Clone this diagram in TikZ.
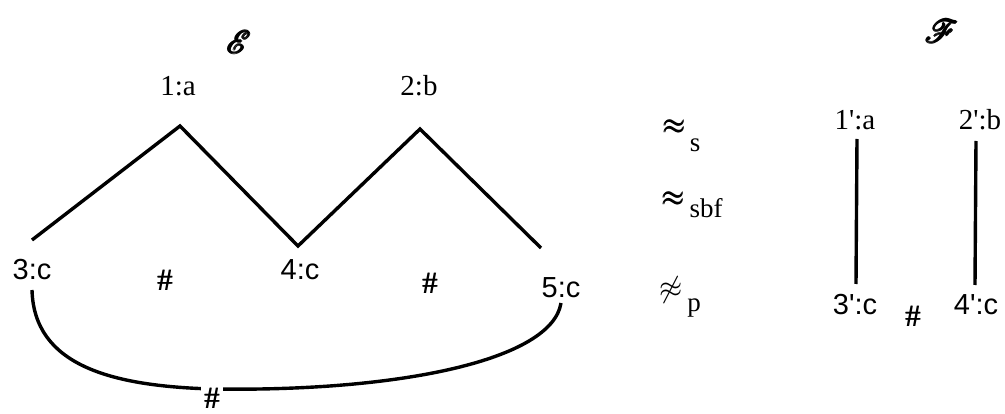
\documentclass[tikz,border=0pt]{standalone}
\usepackage{fontspec}
\setmainfont{Liberation Serif}
\newfontfamily\lsans{Liberation Sans}
\usepackage{amsmath}
\usepackage{graphicx}
\usepackage{mathrsfs}
\newcommand{\fatscr}[1]{\scalebox{3.2}{\rlap{$\mathscr{#1}$}\rlap{\kern0.3pt$\mathscr{#1}$}\rlap{\kern0.6pt$\mathscr{#1}$}\rlap{\raisebox{0.3pt}{\kern0.3pt$\mathscr{#1}$}}\raisebox{-0.3pt}{\kern0.3pt$\mathscr{#1}$}}}
\newcommand{\fatapprox}{\rlap{$\approx$}\rlap{\kern0.5pt$\approx$}\raisebox{0.4pt}{\kern0.25pt$\approx$}}
\newcommand{\fathash}{\rlap{\#}\kern0.6pt\#}
\tikzset{
  lbl/.style={font=\fontsize{29}{32}\selectfont, inner sep=0pt, anchor=base},
  slbl/.style={font=\lsans\fontsize{29}{32}\selectfont, inner sep=0pt, anchor=base},
  hash/.style={font=\fontsize{31}{32}\selectfont, inner sep=0pt},
  edge/.style={line width=3.4pt, line join=miter},
  relsym/.style={font=\fontsize{26}{28}\selectfont, inner sep=0pt},
  relsub/.style={font=\fontsize{27}{30}\selectfont, inner sep=0pt, anchor=base},
  title/.style={font=\normalsize, inner sep=0pt},
}
\begin{document}
\begin{tikzpicture}[x=1pt,y=-1pt]
\useasboundingbox (0,0) rectangle (1005,414);
% titles
\node[title] (E) at (238,42) {\fatscr{E}};
\node[title] (F) at (941,31) {\fatscr{F}};
% left graph vertices
\coordinate (v1) at (180,126);
\coordinate (v2) at (420,129);
\coordinate (v3) at (32,240);
\coordinate (v4) at (298,246);
\coordinate (v5) at (541,248);
\node[lbl] (l1) at (178,96) {1:a};
\node[lbl] (l2) at (419,96) {2:b};
\node[slbl] (l3) at (32,280) {3:c};
\node[slbl] (l4) at (300,280) {4:c};
\node[slbl] (l5) at (561,298) {5:c};
\draw[edge] (v3) -- (v1) -- (v4) -- (v2) -- (v5);
\node[hash] (h1) at (165,280) {\fathash};
\node[hash] (h2) at (430,283) {\fathash};
% arc
\coordinate (a3) at (32,290);
\coordinate (a5) at (561,303);
\coordinate (am) at (212,389);
\draw[edge] (a3) .. controls (34,365) and (110,386) .. (am)
  .. controls (400,392) and (552,360) .. (a5);
\node[hash, fill=white, inner sep=3pt] (h3) at (212,398) {\fathash};
% relations
\node[relsym] (r1) at (674,127) {\scalebox{1.15}{\fatapprox}};
\node[relsub] (r1s) at (695,152) {s};
\node[relsym] (r2) at (673,199) {\scalebox{1.15}{\fatapprox}};
\node[relsub] (r2s) at (706,218) {sbf};
\node[relsym] (r3) at (671,290) {\scalebox{1.2}{$\not\approx$}};
\node[relsub] (r3s) at (694,312) {p};
% right graph
\node[lbl] (m1) at (855,130) {1\textquotesingle:a};
\node[lbl] (m2) at (980,130) {2\textquotesingle:b};
\node[slbl] (m3) at (855,315) {3\textquotesingle:c};
\node[slbl] (m4) at (976,315) {4\textquotesingle:c};
\node[hash] (h4) at (913,316) {\fathash};
\coordinate (w1) at (857,139);
\coordinate (w3) at (856,284);
\coordinate (w2) at (976,141);
\coordinate (w4) at (975,285);
\draw[edge] (w1) -- (w3);
\draw[edge] (w2) -- (w4);
\end{tikzpicture}
\end{document}
